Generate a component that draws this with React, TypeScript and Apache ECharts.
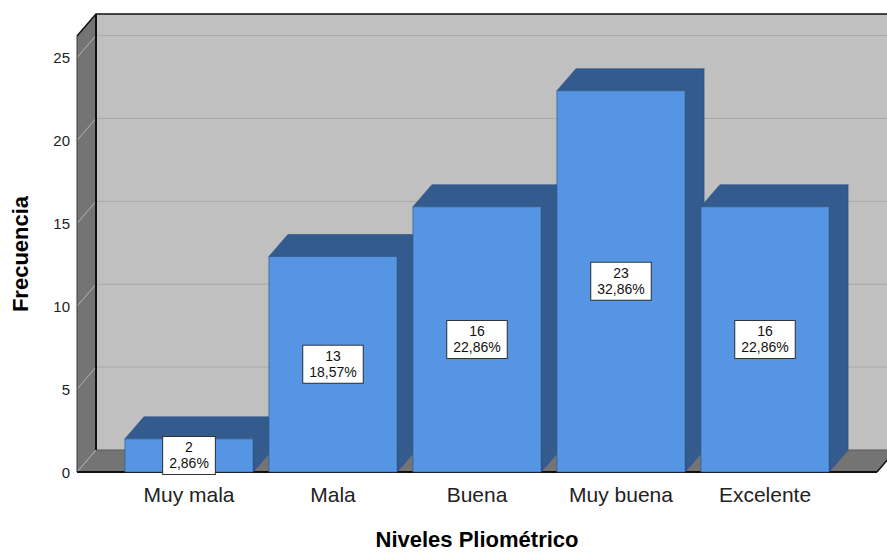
import React, { useEffect, useRef } from 'react';
import * as echarts from 'echarts';

// Frequency table: plyometric levels
const categories = ['Muy mala', 'Mala', 'Buena', 'Muy buena', 'Excelente'];
const frequencies = [2, 13, 16, 23, 16];
const yTicks = [0, 5, 10, 15, 20, 25];

const FONT = '"Liberation Sans", Arial, Helvetica, sans-serif';

// 3D look: depth offset of the walls and bars, and wall padding around the category band
const DX = 19;
const DY = -22;
const WALL_PAD = 40;

const total = frequencies.reduce((a, b) => a + b, 0);
const pct = (v: number) => ((v / total) * 100).toFixed(2).replace('.', ',') + '%';

export default function App() {
  const ref = useRef<HTMLDivElement>(null);

  useEffect(() => {
    if (!ref.current) return;
    const chart = echarts.init(ref.current, null, { renderer: 'svg' });

    const frameRender = (params: any, api: any) => {
      const cs = params.coordSys;
      const x0 = cs.x - WALL_PAD;
      const x1 = cs.x + cs.width + WALL_PAD;
      const top = cs.y;
      const zero = cs.y + cs.height;
      const bx0 = x0 + DX;
      const bx1 = x1 + DX;
      const children: any[] = [
        {
          type: 'polygon',
          shape: { points: [[bx0, top + DY], [bx1, top + DY], [bx1, zero + DY], [bx0, zero + DY]] },
          style: { fill: '#c0c0c0' },
        },
        {
          type: 'polygon',
          shape: { points: [[x0, top], [bx0, top + DY], [bx0, zero + DY], [x0, zero]] },
          style: { fill: '#747474' },
        },
        {
          type: 'polygon',
          shape: { points: [[x0, zero], [bx0, zero + DY], [bx1, zero + DY], [x1, zero]] },
          style: { fill: '#747474' },
        },
      ];
      yTicks.forEach((t) => {
        const y = api.coord([0, t])[1];
        if (t > 0) {
          children.push({
            type: 'line',
            shape: { x1: bx0, y1: y + DY, x2: bx1, y2: y + DY },
            style: { stroke: '#a9a9a9', lineWidth: 1 },
          });
        }
        children.push({
          type: 'line',
          shape: { x1: x0, y1: y, x2: bx0, y2: y + DY },
          style: { stroke: '#b4b4b4', lineWidth: 1 },
        });
      });
      children.push(
        {
          type: 'line',
          shape: { x1: bx0, y1: zero + DY, x2: bx1, y2: zero + DY },
          style: { stroke: '#5a5a5a', lineWidth: 1 },
        },
        {
          type: 'line',
          shape: { x1: bx0, y1: top + DY, x2: bx0, y2: zero + DY },
          style: { stroke: '#111', lineWidth: 2 },
        },
        {
          type: 'polyline',
          shape: { points: [[x0, top], [bx0, top + DY], [bx1, top + DY]] },
          style: { stroke: '#111', lineWidth: 1.5, fill: null },
        },
        {
          type: 'line',
          shape: { x1: x0, y1: top, x2: x0, y2: zero },
          style: { stroke: '#3a3a3a', lineWidth: 1 },
        },
        {
          type: 'line',
          shape: { x1: x1, y1: zero, x2: bx1, y2: zero + DY },
          style: { stroke: '#111', lineWidth: 1.5 },
        },
        {
          type: 'line',
          shape: { x1: x0, y1: zero, x2: x1, y2: zero },
          style: { stroke: '#111', lineWidth: 2 },
        }
      );
      return { type: 'group', children };
    };

    const barRender = (params: any, api: any) => {
      const idx = api.value(0);
      const v = api.value(1);
      const [cx, yTop] = api.coord([idx, v]);
      const yBase = api.coord([idx, 0])[1];
      const w = api.size([1, 0])[0] * 0.89;
      const L = cx - w / 2;
      const R = cx + w / 2;
      const edge = '#2c5080';
      return {
        type: 'group',
        children: [
          {
            type: 'polygon',
            shape: { points: [[L, yTop], [L + DX, yTop + DY], [R + DX, yTop + DY], [R, yTop]] },
            style: { fill: '#335b8e', stroke: edge, lineWidth: 0.6 },
          },
          {
            type: 'polygon',
            shape: { points: [[R, yTop], [R + DX, yTop + DY], [R + DX, yBase + DY], [R, yBase]] },
            style: { fill: '#335b8e', stroke: edge, lineWidth: 0.6 },
          },
          {
            type: 'rect',
            shape: { x: L, y: yTop, width: w, height: yBase - yTop },
            style: { fill: '#5595e3', stroke: edge, lineWidth: 0.6 },
          },
          {
            type: 'text',
            x: cx,
            y: (yTop + yBase) / 2,
            style: {
              text: `${v}\n${pct(v)}`,
              align: 'center',
              verticalAlign: 'middle',
              fontSize: 14,
              lineHeight: 16,
              fontFamily: FONT,
              fill: '#111',
              backgroundColor: '#ffffff',
              borderColor: '#333',
              borderWidth: 1,
              padding: [3, 6, 2, 6],
            },
          },
        ],
      };
    };

    chart.setOption({
      animation: false,
      backgroundColor: '#ffffff',
      grid: { left: 117, right: 50, top: 36, bottom: 77 },
      xAxis: {
        type: 'category',
        data: categories,
        axisLine: { show: false },
        axisTick: { show: false },
        splitLine: { show: false },
        axisLabel: { fontSize: 21, color: '#222', fontFamily: FONT, margin: 12 },
        name: 'Niveles Pliométrico',
        nameLocation: 'middle',
        nameGap: 56,
        nameTextStyle: { fontSize: 22, fontWeight: 'bold', color: '#000', fontFamily: FONT },
      },
      yAxis: {
        type: 'value',
        min: 0,
        max: 26.3,
        interval: 5,
        axisLine: { show: false },
        axisTick: { show: false },
        splitLine: { show: false },
        axisLabel: {
          fontSize: 15,
          color: '#222',
          fontFamily: FONT,
          margin: 47,
          formatter: (v: number) => (yTicks.includes(v) ? String(v) : ''),
        },
        name: 'Frecuencia',
        nameLocation: 'middle',
        nameGap: 86,
        nameRotate: 90,
        nameTextStyle: { fontSize: 22, fontWeight: 'bold', color: '#000', fontFamily: FONT },
      },
      series: [
        {
          type: 'custom',
          z: 1,
          silent: true,
          renderItem: frameRender,
          data: [[0, 0]],
        },
        {
          type: 'custom',
          z: 2,
          renderItem: barRender,
          encode: { x: 0, y: 1 },
          data: frequencies.map((v, i) => [i, v]),
        },
      ],
    });

    return () => chart.dispose();
  }, []);

  return (
    <div
      ref={ref}
      style={{ position: 'absolute', left: 0, top: 0, width: 887, height: 555 }}
    />
  );
}
